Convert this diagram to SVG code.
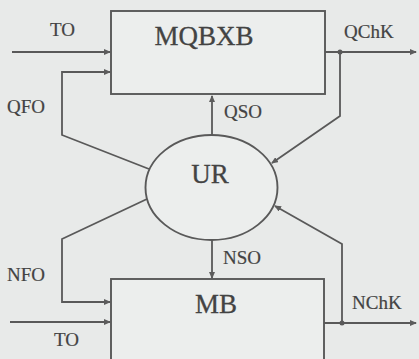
<svg xmlns="http://www.w3.org/2000/svg" width="419" height="359" viewBox="0 0 419 359">
<defs>
<marker id="arr" markerWidth="7" markerHeight="6" refX="6" refY="3" orient="auto" markerUnits="userSpaceOnUse">
<path d="M0,0 L7,3 L0,6 Z" fill="#5c5c5c"/>
</marker>
<style>
.ln{fill:none;stroke:#595959;stroke-width:1.8}
.box{fill:#eceeed;stroke:#595959;stroke-width:1.9}
.big{font-family:"Liberation Serif",serif;font-size:27px;fill:#434343;text-anchor:middle;stroke:#434343;stroke-width:0.3}
.sm{font-family:"Liberation Serif",serif;font-size:19px;fill:#434343;stroke:#434343;stroke-width:0.2}
.dot{fill:#595959}
</style>
</defs>
<rect width="419" height="359" fill="#e8eae9"/>
<g id="connectors">
<path class="ln" d="M12,52 H110" marker-end="url(#arr)"/>
<path class="ln" d="M149,169 L62,135 V72 H110" marker-end="url(#arr)"/>
<path class="ln" d="M325,52 H416" marker-end="url(#arr)"/>
<path class="ln" d="M340,52 V116 L272,163" marker-end="url(#arr)"/>
<path class="ln" d="M212,135 V96" marker-end="url(#arr)"/>
<path class="ln" d="M212,240 V278" marker-end="url(#arr)"/>
<path class="ln" d="M147,199 L62,239 V302 H110" marker-end="url(#arr)"/>
<path class="ln" d="M10,322 H110" marker-end="url(#arr)"/>
<path class="ln" d="M324,323 H416" marker-end="url(#arr)"/>
<path class="ln" d="M342,323 V244 L275,206" marker-end="url(#arr)"/>
<circle class="dot" cx="340" cy="52" r="2.5"/>
<circle class="dot" cx="342" cy="323" r="2.5"/>
<text class="sm" x="50" y="36">TO</text>
<text class="sm" x="7" y="113">QFO</text>
<text class="sm" x="344" y="38">QChK</text>
<text class="sm" x="224" y="118">QSO</text>
<text class="sm" x="223" y="264">NSO</text>
<text class="sm" x="7" y="281">NFO</text>
<text class="sm" x="54" y="346">TO</text>
<text class="sm" x="352" y="309">NChK</text>
</g>
<g id="MQBXB">
<rect class="box" x="111" y="11" width="214" height="83"/>
<text class="big" x="204" y="45">MQBXB</text>
</g>
<g id="UR">
<ellipse class="box" cx="211.5" cy="187.5" rx="66" ry="52.5"/>
<text class="big" x="210" y="183">UR</text>
</g>
<g id="MB">
<rect class="box" x="111" y="279" width="213" height="90"/>
<text class="big" x="216" y="313">MB</text>
</g>
</svg>
